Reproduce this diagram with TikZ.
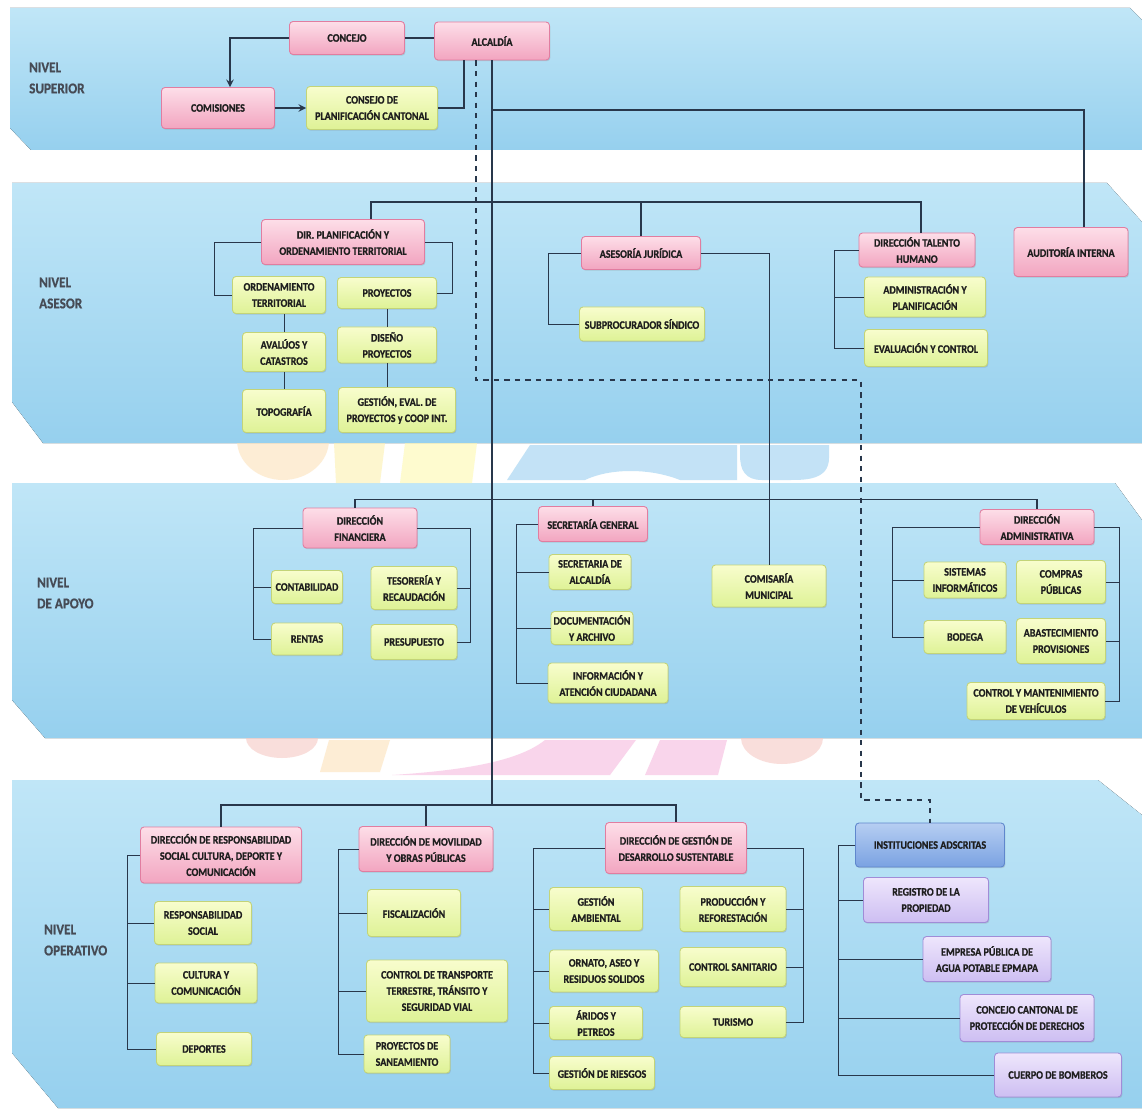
\documentclass[tikz,border=0pt]{standalone}
\usepackage{fontspec}
\setmainfont{Carlito}
\newfontfamily\chartFont{Carlito}[FakeStretch=0.88, BoldFeatures={FakeBold=0.8}]
\usetikzlibrary{positioning,calc,shadows}
\definecolor{bandTop}{RGB}{192,230,247}
\definecolor{bandBottom}{RGB}{150,208,238}
\definecolor{lineColor}{RGB}{40,55,75}
\definecolor{boxText}{RGB}{30,30,30}
\definecolor{levelColor}{RGB}{70,75,85}
\definecolor{pinkTop}{RGB}{253,222,232}
\definecolor{pinkBottom}{RGB}{242,165,192}
\definecolor{pinkBorder}{RGB}{225,125,160}
\definecolor{yellowTop}{RGB}{248,253,205}
\definecolor{yellowBottom}{RGB}{222,242,150}
\definecolor{yellowBorder}{RGB}{195,212,120}
\definecolor{lilacTop}{RGB}{238,230,252}
\definecolor{lilacBottom}{RGB}{205,190,242}
\definecolor{lilacBorder}{RGB}{160,140,215}
\definecolor{blueTop}{RGB}{182,206,242}
\definecolor{blueBottom}{RGB}{122,162,226}
\definecolor{blueBorder}{RGB}{95,135,205}
\definecolor{logoYellow}{RGB}{253,240,175}
\definecolor{logoOrange}{RGB}{253,226,185}
\definecolor{logoBlue}{RGB}{155,208,240}
\definecolor{logoPink}{RGB}{246,185,222}
\definecolor{logoSalmon}{RGB}{246,200,195}
\tikzstyle{chart} = [x = 0.02cm, y = -0.02cm]
\tikzstyle{bandStyle} = [top color = bandTop, bottom color = bandBottom]
\tikzstyle{logoPatch} = [opacity = .6]
\tikzstyle{boxStyle} = [rounded corners = .07cm, line width = .5pt, align = center, inner sep = 1pt, text = boxText, font = \chartFont\bfseries\fontsize{6.5}{9.2}\selectfont, drop shadow = {opacity = .25, shadow xshift = .5pt, shadow yshift = -.7pt}]
\tikzstyle{headBox} = [boxStyle, draw = pinkBorder, top color = pinkTop, bottom color = pinkBottom]
\tikzstyle{unitBox} = [boxStyle, draw = yellowBorder, top color = yellowTop, bottom color = yellowBottom]
\tikzstyle{lilacBox} = [boxStyle, draw = lilacBorder, top color = lilacTop, bottom color = lilacBottom]
\tikzstyle{blueBox} = [boxStyle, draw = blueBorder, top color = blueTop, bottom color = blueBottom]
\tikzstyle{levelText} = [anchor = west, align = left, text = levelColor, font = \chartFont\bfseries\fontsize{8.5}{12}\selectfont]
\tikzstyle{mainLine} = [color = lineColor, line width = .9pt]
\tikzstyle{thinLine} = [color = lineColor, line width = .5pt]
\tikzstyle{dashLine} = [color = lineColor, line width = .6pt, dashed]
\newcommand{\orgBox}[7]{\node [#2, minimum width = #5*0.02cm, minimum height = #6*0.02cm] (#1) at (#3, #4) {#7};}
\newcommand{\levelLabel}[4]{\node [levelText] (#1) at (#2, #3) {#4};}
\begin{document}
\begin{tikzpicture}[chart, >=stealth]
  \useasboundingbox (0,0) rectangle (1142,1111);
  \fill [white] (0,0) rectangle (1142,1111);

  \fill [bandStyle] (10,8) -- (1130,8) -- (1142,20) -- (1142,150) -- (31,150) -- (10,128) -- cycle;
  \fill [bandStyle] (12,183) -- (1107,183) -- (1142,222) -- (1142,443) -- (43,443) -- (12,402) -- cycle;
  \fill [bandStyle] (12,483) -- (1115,483) -- (1142,520) -- (1142,738) -- (45,738) -- (12,700) -- cycle;
  \fill [bandStyle] (12,780) -- (1098,780) -- (1142,815) -- (1142,1108) -- (58,1108) -- (12,1053) -- cycle;

  \begin{scope}[logoPatch]
    \clip (0,443) rectangle (1142,483);
    \fill [logoOrange] (283,440) ellipse (46 and 40);
    \fill [logoYellow] (334,443) -- (385,443) -- (380,483) -- (336,483) -- cycle;
    \fill [logoYellow!70!yellow!60!white] (405,443) -- (477,443) -- (472,483) -- (400,483) -- cycle;
    \fill [logoBlue] (530,445) -- (737,445) -- (737,480) -- (680,480) .. controls (650,468) and (610,468) .. (585,480) -- (507,480) -- cycle;
    \fill [logoBlue] (740,445) -- (829,445) -- (829,458) .. controls (829,480) and (805,480) .. (790,480) -- (762,480) .. controls (745,480) and (740,470) .. (740,455) -- cycle;
  \end{scope}
  \begin{scope}[logoPatch]
    \clip (0,738) rectangle (1142,780);
    \fill [logoSalmon] (282,738) ellipse (36 and 20);
    \fill [logoOrange] (329,740) -- (390,740) -- (380,772) -- (320,772) -- cycle;
    \fill [logoPink] (392,775) .. controls (470,770) and (520,760) .. (545,740) -- (636,740) -- (610,775) -- cycle;
    \fill [logoPink] (660,740) -- (727,740) -- (718,775) -- (645,775) -- cycle;
    \fill [logoSalmon] (782,738) ellipse (41 and 26);
  \end{scope}

  \levelLabel{nivelSuperior}{23}{78}{NIVEL\\SUPERIOR}
  \levelLabel{nivelAsesor}{33}{293}{NIVEL\\ASESOR}
  \levelLabel{nivelApoyo}{31}{593}{NIVEL\\DE APOYO}
  \levelLabel{nivelOperativo}{38}{940}{NIVEL\\OPERATIVO}

  \orgBox{concejo}{headBox}{347}{38}{115}{33}{CONCEJO}
  \orgBox{alcaldia}{headBox}{492}{41}{115}{38}{ALCALDÍA}
  \orgBox{comisiones}{headBox}{218}{108}{113}{41}{COMISIONES}
  \orgBox{consejoPlan}{unitBox}{372}{108}{131}{43}{CONSEJO DE\\PLANIFICACIÓN CANTONAL}

  \orgBox{dirPlan}{headBox}{343}{242}{163}{45}{DIR. PLANIFICACIÓN Y\\ORDENAMIENTO TERRITORIAL}
  \orgBox{ordTer}{unitBox}{279}{295}{93}{37}{ORDENAMIENTO\\TERRITORIAL}
  \orgBox{proyectos}{unitBox}{387}{293}{99}{31}{PROYECTOS}
  \orgBox{avaluos}{unitBox}{284}{352}{83}{39}{AVALÚOS Y\\CATASTROS}
  \orgBox{disenoProy}{unitBox}{387}{345}{99}{36}{DISEÑO\\PROYECTOS}
  \orgBox{topografia}{unitBox}{284}{411}{83}{43}{TOPOGRAFÍA}
  \orgBox{gestionEval}{unitBox}{397}{410}{117}{45}{GESTIÓN, EVAL. DE\\PROYECTOS y COOP INT.}
  \orgBox{juridica}{headBox}{641}{253}{119}{33}{ASESORÍA JURÍDICA}
  \orgBox{subprocurador}{unitBox}{642}{324}{125}{34}{SUBPROCURADOR SÍNDICO}
  \orgBox{talento}{headBox}{917}{250}{116}{34}{DIRECCIÓN TALENTO\\HUMANO}
  \orgBox{adminPlan}{unitBox}{925}{297}{121}{40}{ADMINISTRACIÓN Y\\PLANIFICACIÓN}
  \orgBox{evalControl}{unitBox}{926}{348}{123}{37}{EVALUACIÓN Y CONTROL}
  \orgBox{auditoria}{headBox}{1071}{252}{114}{49}{AUDITORÍA INTERNA}

  \orgBox{dirFin}{headBox}{360}{528}{114}{40}{DIRECCIÓN\\FINANCIERA}
  \orgBox{contab}{unitBox}{307}{587}{71}{33}{CONTABILIDAD}
  \orgBox{rentas}{unitBox}{307}{639}{71}{32}{RENTAS}
  \orgBox{tesoreria}{unitBox}{414}{588}{86}{43}{TESORERÍA Y\\RECAUDACIÓN}
  \orgBox{presupuesto}{unitBox}{414}{642}{86}{35}{PRESUPUESTO}
  \orgBox{secGen}{headBox}{593}{524}{109}{35}{SECRETARÍA GENERAL}
  \orgBox{secAlc}{unitBox}{590}{572}{82}{35}{SECRETARIA DE\\ALCALDÍA}
  \orgBox{docArch}{unitBox}{592}{628}{82}{33}{DOCUMENTACIÓN\\Y ARCHIVO}
  \orgBox{infoAtn}{unitBox}{608}{683}{120}{40}{INFORMACIÓN Y\\ATENCIÓN CIUDADANA}
  \orgBox{comisaria}{unitBox}{769}{586}{114}{42}{COMISARÍA\\MUNICIPAL}
  \orgBox{dirAdm}{headBox}{1037}{527}{114}{35}{DIRECCIÓN\\ADMINISTRATIVA}
  \orgBox{sistemas}{unitBox}{965}{580}{82}{36}{SISTEMAS\\INFORMÁTICOS}
  \orgBox{bodega}{unitBox}{965}{637}{82}{33}{BODEGA}
  \orgBox{compras}{unitBox}{1061}{582}{89}{43}{COMPRAS\\PÚBLICAS}
  \orgBox{abastec}{unitBox}{1061}{641}{89}{45}{ABASTECIMIENTO\\PROVISIONES}
  \orgBox{controlVeh}{unitBox}{1036}{701}{138}{37}{CONTROL Y MANTENIMIENTO\\DE VEHÍCULOS}

  \orgBox{dirResp}{headBox}{221}{855}{161}{56}{DIRECCIÓN DE RESPONSABILIDAD\\SOCIAL CULTURA, DEPORTE Y\\COMUNICACIÓN}
  \orgBox{respSocial}{unitBox}{203}{923}{97}{43}{RESPONSABILIDAD\\SOCIAL}
  \orgBox{cultura}{unitBox}{206}{983}{102}{40}{CULTURA Y\\COMUNICACIÓN}
  \orgBox{deportes}{unitBox}{204}{1049}{95}{33}{DEPORTES}
  \orgBox{dirMov}{headBox}{426}{849}{134}{45}{DIRECCIÓN DE MOVILIDAD\\Y OBRAS PÚBLICAS}
  \orgBox{fiscal}{unitBox}{414}{913}{93}{47}{FISCALIZACIÓN}
  \orgBox{ctrlTrans}{unitBox}{437}{991}{141}{62}{CONTROL DE TRANSPORTE\\TERRESTRE, TRÁNSITO Y\\SEGURIDAD VIAL}
  \orgBox{saneam}{unitBox}{407}{1054}{86}{38}{PROYECTOS DE\\SANEAMIENTO}
  \orgBox{dirGest}{headBox}{676}{848}{141}{51}{DIRECCIÓN DE GESTIÓN DE\\DESARROLLO SUSTENTABLE}
  \orgBox{gestAmb}{unitBox}{596}{909}{93}{43}{GESTIÓN\\AMBIENTAL}
  \orgBox{ornato}{unitBox}{604}{971}{109}{42}{ORNATO, ASEO Y\\RESIDUOS SOLIDOS}
  \orgBox{aridos}{unitBox}{596}{1023}{93}{33}{ÁRIDOS Y\\PETREOS}
  \orgBox{riesgos}{unitBox}{602}{1073}{105}{33}{GESTIÓN DE RIESGOS}
  \orgBox{produccion}{unitBox}{733}{909}{106}{45}{PRODUCCIÓN Y\\REFORESTACIÓN}
  \orgBox{ctrlSan}{unitBox}{733}{967}{106}{39}{CONTROL SANITARIO}
  \orgBox{turismo}{unitBox}{733}{1022}{106}{31}{TURISMO}
  \orgBox{instituciones}{blueBox}{930}{845}{149}{44}{INSTITUCIONES ADSCRITAS}
  \orgBox{registro}{lilacBox}{926}{900}{125}{45}{REGISTRO DE LA\\PROPIEDAD}
  \orgBox{empresa}{lilacBox}{987}{959}{128}{45}{EMPRESA PÚBLICA DE\\AGUA POTABLE EPMAPA}
  \orgBox{concejoCant}{lilacBox}{1027}{1018}{134}{47}{CONCEJO CANTONAL DE\\PROTECCIÓN DE DERECHOS}
  \orgBox{bomberos}{lilacBox}{1058}{1075}{127}{44}{CUERPO DE BOMBEROS}

  \coordinate (auditLine) at (0,110);
  \coordinate (busOp) at (0,805);
  \coordinate (dashMid) at (861,380);
  \coordinate (dashLow) at (861,800);

  \draw [mainLine] (concejo.east) -- (concejo.east -| alcaldia.west);
  \draw [mainLine, ->] (concejo.west) -| ($(comisiones.north)+(12,0)$);
  \draw [mainLine, ->] (comisiones.east) -- (consejoPlan.west);
  \draw [mainLine] (consejoPlan.east) -| ($(alcaldia.south)+(-28,0)$);
  \draw [mainLine] (alcaldia.south) -- (alcaldia.south |- busOp);
  \draw [mainLine] (alcaldia.south |- auditLine) -| ($(auditoria.north)+(13,0)$);
  \draw [dashLine] ($(alcaldia.south)+(-16,0)$) |- (dashMid) -- (dashLow) -| (instituciones.north);

  \draw [mainLine] ($(dirPlan.north)+(28,0)$) -- ++(0,-17) -| ($(talento.north)+(4,0)$);
  \draw [mainLine] (juridica.north) -- ++(0,-34);
  \draw [thinLine] (dirPlan.west) -- ++(-47,0) |- (ordTer.west);
  \draw [thinLine] (dirPlan.east) -- ++(27,0) |- (proyectos.east);
  \draw [thinLine] (avaluos.north) -- (avaluos.north |- ordTer.south);
  \draw [thinLine] (avaluos.south) -- (topografia.north);
  \draw [thinLine] (proyectos.south) -- (disenoProy.north);
  \draw [thinLine] (disenoProy.south) -- (disenoProy.south |- gestionEval.north);
  \draw [thinLine] (juridica.west) -- ++(-33,0) |- (subprocurador.west);
  \draw [thinLine] (juridica.east) -| (comisaria.north);
  \draw [thinLine] (talento.west) -- ++(-24,0) coordinate (talentoRail) |- (evalControl.west);
  \draw [thinLine] (adminPlan.west) -- (adminPlan.west -| talentoRail);

  \draw [mainLine] ($(dirFin.north)+(-5,0)$) -- ++(0,-8) -| (dirAdm.north);
  \draw [mainLine] (secGen.north) -- ++(0,-6.5);
  \draw [thinLine] (dirFin.west) -- ++(-49,0) coordinate (finRail) |- (rentas.west);
  \draw [thinLine] (contab.west) -- (contab.west -| finRail);
  \draw [thinLine] (dirFin.east) -- ++(53,0) coordinate (finRailR) |- (presupuesto.east);
  \draw [thinLine] (tesoreria.east) -- (tesoreria.east -| finRailR);
  \draw [thinLine] (secGen.west) -- ++(-21.5,0) coordinate (secRail) |- (infoAtn.west);
  \draw [thinLine] (secAlc.west) -- (secAlc.west -| secRail);
  \draw [thinLine] (docArch.west) -- (docArch.west -| secRail);
  \draw [thinLine] (dirAdm.west) -- ++(-87,0) coordinate (admRail) |- (bodega.west);
  \draw [thinLine] (sistemas.west) -- (sistemas.west -| admRail);
  \draw [thinLine] (dirAdm.east) -- ++(25,0) coordinate (admRailR) |- (controlVeh.east);
  \draw [thinLine] (compras.east) -- (compras.east -| admRailR);
  \draw [thinLine] (abastec.east) -- (abastec.east -| admRailR);

  \draw [mainLine] (dirResp.north) -- (dirResp.north |- busOp) -| (dirGest.north);
  \draw [mainLine] (dirMov.north) -- (dirMov.north |- busOp);
  \draw [thinLine] (dirResp.west) -- ++(-13,0) coordinate (respRail) |- (deportes.west);
  \draw [thinLine] (respSocial.west) -- (respSocial.west -| respRail);
  \draw [thinLine] (cultura.west) -- (cultura.west -| respRail);
  \draw [thinLine] (dirMov.west) -- ++(-20,0) coordinate (movRail) |- (saneam.west);
  \draw [thinLine] (fiscal.west) -- (fiscal.west -| movRail);
  \draw [thinLine] (ctrlTrans.west) -- (ctrlTrans.west -| movRail);
  \draw [thinLine] (dirGest.west) -- ++(-71.5,0) coordinate (gestRail) |- (riesgos.west);
  \draw [thinLine] (gestAmb.west) -- (gestAmb.west -| gestRail);
  \draw [thinLine] (ornato.west) -- (ornato.west -| gestRail);
  \draw [thinLine] (aridos.west) -- (aridos.west -| gestRail);
  \draw [thinLine] (dirGest.east) -- ++(56.5,0) coordinate (gestRailR) |- (turismo.east);
  \draw [thinLine] (produccion.east) -- (produccion.east -| gestRailR);
  \draw [thinLine] (ctrlSan.east) -- (ctrlSan.east -| gestRailR);
  \draw [thinLine] (instituciones.west) -- ++(-16.5,0) coordinate (instRail) |- (bomberos.west);
  \draw [thinLine] (registro.west) -- (registro.west -| instRail);
  \draw [thinLine] (empresa.west) -- (empresa.west -| instRail);
  \draw [thinLine] (concejoCant.west) -- (concejoCant.west -| instRail);
\end{tikzpicture}
\end{document}
